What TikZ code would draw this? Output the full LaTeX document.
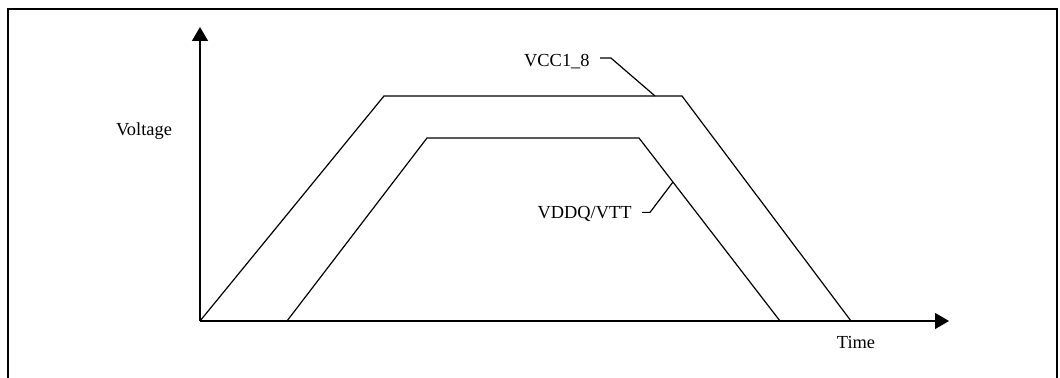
\documentclass[tikz,border=0pt]{standalone}
\usepackage{fontspec}
\setmainfont{Liberation Serif}
\usetikzlibrary{arrows.meta,positioning}

\begin{document}
\begin{tikzpicture}[x=0.5pt,y=-0.5pt,>={Triangle[length=7pt,width=8pt]},
  lbl/.style={inner sep=0pt,font=\fontsize{9.2}{11}\selectfont},
  wave/.style={line width=0.6pt,line join=miter}]
\useasboundingbox (0,0) rectangle (1060,378);
% frame
\draw[line width=1pt] (8,378)--(8,9)--(1057,9)--(1057,378);
% axes
\coordinate (o) at (200,321);
\coordinate (ytop) at (200,27);
\coordinate (xend) at (949,321);
\draw[->,line width=0.7pt] (o)--(ytop);
\draw[->,line width=0.7pt] (o)--(xend);
\node[lbl,anchor=base] (volt) at (144,136) {Voltage};
\node[lbl,anchor=base] (time) at (856,349) {Time};
% rails
\draw[wave] (o)--(384,96)--(682,96)--(851,321);
\draw[wave] (287,321)--(427,138)--(639,138)--(780,321);
% rail labels
\node[lbl,anchor=base east] (vcc) at (590,67) {VCC1\_8};
\node[lbl,anchor=base east] (vddq) at (632,219) {VDDQ/VTT};
\coordinate (vcctap) at (655,96);
\coordinate (vddqtap) at (673,182);
\draw[wave] ([xshift=5pt,yshift=2pt]vcc.east) -- ++(11,0) -- (vcctap);
\draw[wave] ([xshift=5pt,yshift=1pt]vddq.east) -- ++(8,0) -- (vddqtap);
\end{tikzpicture}
\end{document}
